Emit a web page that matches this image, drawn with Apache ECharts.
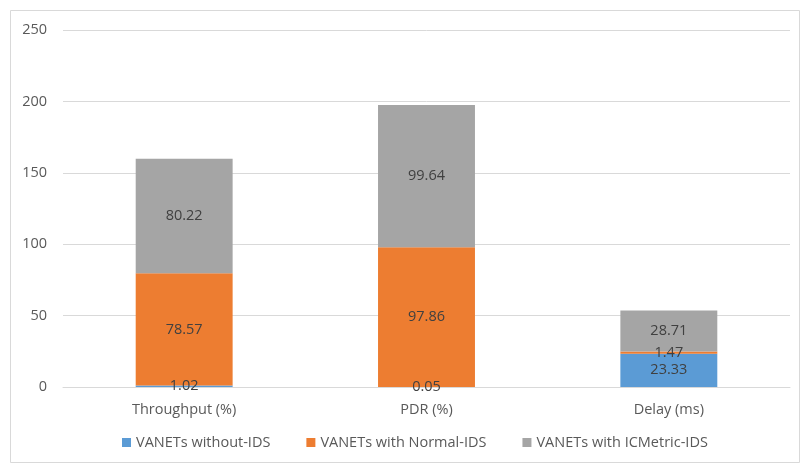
<!DOCTYPE html>
<html>
<head>
<meta charset="utf-8">
<script src="https://cdn.jsdelivr.net/npm/echarts@6/dist/echarts.min.js"></script>
<style>
  html, body { margin: 0; padding: 0; background: #ffffff; }
  #chart { width: 805px; height: 468px; }
</style>
</head>
<body>
<div id="chart"></div>
<script>
// Metrics compared across the three VANET configurations
const categories = ['Throughput (%)', 'PDR (%)', 'Delay (ms)'];
const withoutIds = [1.02, 0.05, 23.33];
const normalIds = [78.57, 97.86, 1.47];
const icmetricIds = [80.22, 99.64, 28.71];
const yTicks = [0, 50, 100, 150, 200, 250];

const seriesNames = ['VANETs without-IDS', 'VANETs with Normal-IDS', 'VANETs with ICMetric-IDS'];
const seriesColors = ['#5B9BD5', '#ED7D31', '#A5A5A5'];
const seriesData = [withoutIds, normalIds, icmetricIds];

const font = '"Open Sans", "Noto Sans", sans-serif';
const textSize = 14.5;

const chart = echarts.init(document.getElementById('chart'), null, { renderer: 'canvas' });

chart.setOption({
  animation: false,
  backgroundColor: '#ffffff',
  textStyle: { fontFamily: font },
  graphic: [{
    type: 'rect',
    left: 8, top: 8,
    shape: { width: 789, height: 452 },
    style: { fill: 'none', stroke: '#d9d9d9', lineWidth: 1 },
    silent: true,
    z: -1
  }],
  grid: { left: 63, right: 15, top: 30, bottom: 81, containLabel: false },
  legend: {
    bottom: 13,
    left: 117,
    itemWidth: 9,
    itemHeight: 9,
    itemGap: 36,
    icon: 'rect',
    textStyle: { color: '#595959', fontSize: textSize, fontFamily: font },
    data: seriesNames
  },
  xAxis: {
    type: 'category',
    data: categories,
    axisLine: { show: true, lineStyle: { color: '#d9d9d9' } },
    axisTick: { show: false },
    axisLabel: { color: '#595959', fontSize: textSize, margin: 15, fontFamily: font }
  },
  yAxis: {
    type: 'value',
    min: yTicks[0],
    max: yTicks[yTicks.length - 1],
    interval: 50,
    axisLine: { show: false },
    axisTick: { show: false },
    axisLabel: { color: '#595959', fontSize: textSize, margin: 16, fontFamily: font },
    splitLine: { lineStyle: { color: '#d9d9d9' } }
  },
  series: seriesData.map((data, i) => ({
    name: seriesNames[i],
    type: 'bar',
    stack: 'total',
    barWidth: '40%',
    data: data,
    itemStyle: { color: seriesColors[i] },
    label: {
      show: true,
      position: 'inside',
      color: '#404040',
      fontSize: textSize,
      fontFamily: font,
      formatter: p => p.value.toFixed(2)
    }
  }))
});
</script>
</body>
</html>
